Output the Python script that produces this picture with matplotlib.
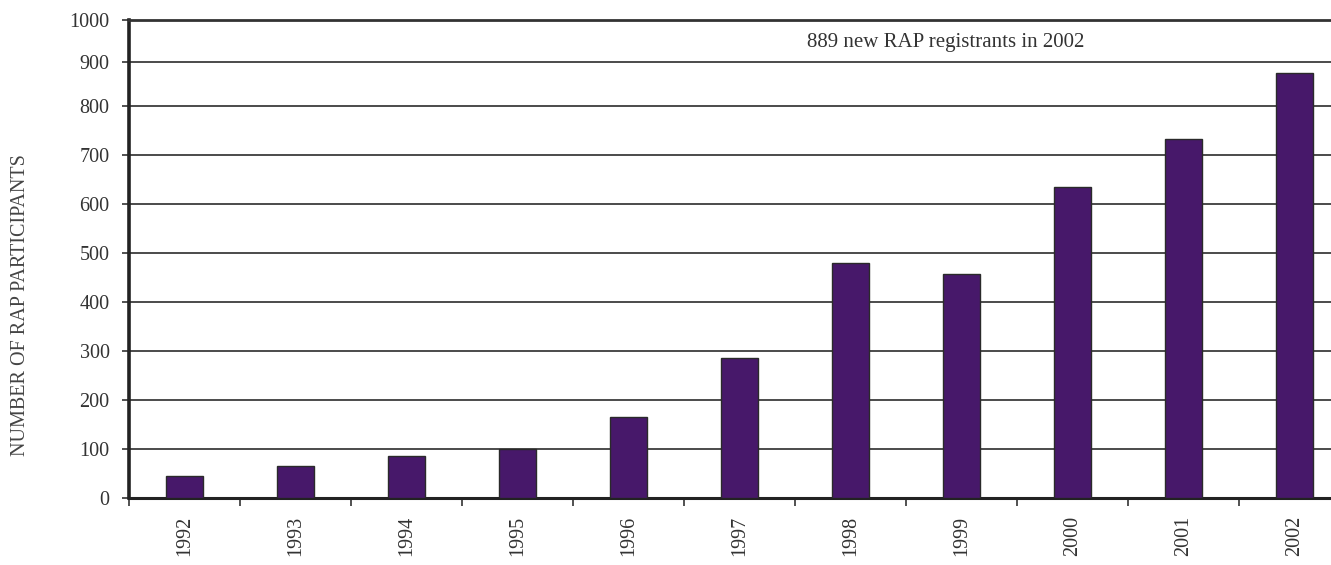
import numpy as np
import matplotlib
matplotlib.use("Agg")
import matplotlib.pyplot as plt
import matplotlib.transforms as mtrans

years = ["1992", "1993", "1994", "1995", "1996", "1997", "1998", "1999", "2000", "2001", "2002"]
participants = [45, 65, 86, 99, 165, 286, 480, 458, 635, 732, 876]
yticks = [0, 100, 200, 300, 400, 500, 600, 700, 800, 900, 1000]
ylabel = "NUMBER OF RAP PARTICIPANTS"
note = "889 new RAP registrants in 2002"

# the original's vertical axis is slightly compressed near the top
scale_vals = np.array([0, 100, 200, 300, 400, 500, 600, 700, 800, 900, 1000], float)
scale_pos = np.array([0, 49, 98, 147, 196, 245, 294, 343, 392, 436, 478], float)

def fwd(v):
    return np.interp(v, scale_vals, scale_pos)

def inv(p):
    return np.interp(p, scale_pos, scale_vals)

plt.rcParams['font.family'] = ['Liberation Serif', 'DejaVu Serif']

W, H = 1331, 565
fig = plt.figure(figsize=(W / 100, H / 100), dpi=100)
left_px, right_px, bottom_px, top_px = 129, 1350, 498, 20
ax = fig.add_axes([left_px / W, (H - bottom_px) / H,
                   (right_px - left_px) / W, (bottom_px - top_px) / H])
ax.set_yscale('function', functions=(fwd, inv))

x = np.arange(len(years))
ax.bar(x, participants, width=0.34, color='#47186A', edgecolor='#2a2a2a',
       linewidth=1.0, zorder=3)

ax.set_xlim(-0.5, len(years) - 0.5)
ax.set_ylim(0, 1000)
ax.set_yticks(yticks)
ax.set_yticklabels([str(v) for v in yticks], fontsize=14.5, color='#333333')
ax.yaxis.set_minor_locator(matplotlib.ticker.NullLocator())
ax.yaxis.grid(True, color='#1a1a1a', linewidth=1.1, zorder=0)
ax.set_axisbelow(True)

ax.set_xticks(x)
ax.set_xticklabels(years, rotation=90, fontsize=14.5, color='#333333')
ax.set_xticks(np.arange(-0.5, len(years)), minor=True)
ax.tick_params(axis='x', which='major', length=0, pad=13)
ax.tick_params(axis='x', which='minor', length=6, width=1.2, color='#333333')
ax.tick_params(axis='y', which='major', length=5, width=1.2, color='#333333', pad=9)

ax.spines['left'].set_linewidth(2.6)
ax.spines['left'].set_color('#222222')
ax.spines['bottom'].set_linewidth(2.2)
ax.spines['bottom'].set_color('#222222')
ax.spines['top'].set_linewidth(2.0)
ax.spines['top'].set_color('#333333')
ax.spines['right'].set_visible(False)

ax.set_ylabel(ylabel, fontsize=14.5, color='#444444')
ax.yaxis.set_label_coords((30 - left_px) / (right_px - left_px),
                          (bottom_px - 305) / (bottom_px - top_px))

fig.text(807, H - 42, note, transform=mtrans.IdentityTransform(),
         fontsize=15, color='#333333', va='center', ha='left')

fig.savefig("out.png", dpi=100)
